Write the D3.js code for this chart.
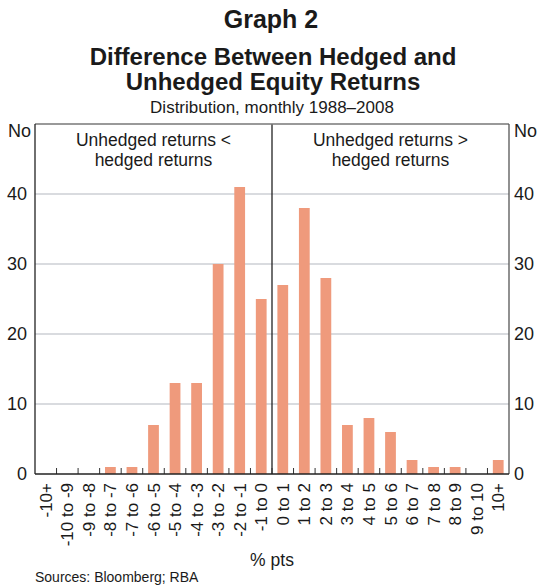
<!DOCTYPE html>
<html>
<head>
<meta charset="utf-8">
<script src="https://cdn.jsdelivr.net/npm/d3@7"></script>
<style>
  body { margin: 0; background: #fff; }
  text { font-family: Arial, "Liberation Sans", sans-serif; fill: #1a1a1a; }
</style>
</head>
<body>
<div id="chart"></div>
<script>
// bins and counts
var bins = ["-10+", "-10 to -9", "-9 to -8", "-8 to -7", "-7 to -6", "-6 to -5", "-5 to -4",
            "-4 to -3", "-3 to -2", "-2 to -1", "-1 to 0", "0 to 1", "1 to 2", "2 to 3",
            "3 to 4", "4 to 5", "5 to 6", "6 to 7", "7 to 8", "8 to 9", "9 to 10", "10+"];
var counts = [0, 0, 0, 1, 1, 7, 13, 13, 30, 41, 25, 27, 38, 28, 7, 8, 6, 2, 1, 1, 0, 2];
var yTicks = [0, 10, 20, 30, 40];

var W = 537, H = 587;
var margin = {top: 124, right: 28, bottom: 113, left: 35},
    width = W - margin.left - margin.right,
    height = H - margin.top - margin.bottom;

var svg = d3.select("#chart").append("svg")
    .attr("width", W)
    .attr("height", H);

// titles
svg.append("text").attr("x", 271).attr("y", 28).attr("text-anchor", "middle")
  .style("font-size", "25px").style("font-weight", "bold").text("Graph 2");
svg.append("text").attr("x", 273).attr("y", 65).attr("text-anchor", "middle")
  .style("font-size", "24px").style("font-weight", "bold").text("Difference Between Hedged and");
svg.append("text").attr("x", 273).attr("y", 90).attr("text-anchor", "middle")
  .style("font-size", "24px").style("font-weight", "bold").text("Unhedged Equity Returns");
svg.append("text").attr("x", 272).attr("y", 113).attr("text-anchor", "middle")
  .style("font-size", "17px").text("Distribution, monthly 1988\u20132008");

var g = svg.append("g")
  .attr("transform", "translate(" + margin.left + "," + margin.top + ")");

var x = d3.scaleBand().domain(bins).range([0, width]).paddingInner(0.5).paddingOuter(0.25);
var y = d3.scaleLinear().domain([0, 50]).range([height, 0]);

// gridlines
g.selectAll(".grid")
  .data(yTicks.filter(d => d > 0))
  .enter().append("line")
    .attr("x1", 0).attr("x2", width)
    .attr("y1", d => y(d)).attr("y2", d => y(d))
    .attr("stroke", "#b4b8bf").attr("stroke-width", 1.2);

// bars
g.selectAll(".bar")
  .data(bins)
  .enter().append("rect")
    .attr("x", d => x(d))
    .attr("width", x.bandwidth())
    .attr("y", (d, i) => y(counts[i]))
    .attr("height", (d, i) => height - y(counts[i]))
    .attr("fill", "#ef9a7c");

// divider at zero
var step = width / bins.length;
g.append("line")
  .attr("x1", step * 11).attr("x2", step * 11)
  .attr("y1", 0).attr("y2", height)
  .attr("stroke", "#222").attr("stroke-width", 1.3);

// frame
g.append("line").attr("x1", 0).attr("x2", width).attr("y1", 0).attr("y2", 0)
  .attr("stroke", "#777").attr("stroke-width", 1.5);
g.append("line").attr("x1", 0).attr("x2", 0).attr("y1", 0).attr("y2", height)
  .attr("stroke", "#222").attr("stroke-width", 1.3);
g.append("line").attr("x1", width).attr("x2", width).attr("y1", 0).attr("y2", height)
  .attr("stroke", "#555").attr("stroke-width", 1.3);

// ticks between bins, pointing up
g.selectAll(".tick")
  .data(d3.range(1, bins.length))
  .enter().append("line")
    .attr("x1", d => d * step).attr("x2", d => d * step)
    .attr("y1", height).attr("y2", height - 6)
    .attr("stroke", "#333").attr("stroke-width", 1);

g.append("line").attr("x1", 0).attr("x2", width).attr("y1", height).attr("y2", height)
  .attr("stroke", "#222").attr("stroke-width", 1.5);

// y axis labels, both sides
g.selectAll(".yl")
  .data(yTicks)
  .enter().append("text")
    .attr("x", -8).attr("y", d => y(d)).attr("dy", "0.35em")
    .attr("text-anchor", "end").style("font-size", "18px").text(d => d);
g.selectAll(".yr")
  .data(yTicks)
  .enter().append("text")
    .attr("x", width + 5).attr("y", d => y(d)).attr("dy", "0.35em")
    .attr("text-anchor", "start").style("font-size", "18px").text(d => d);
g.append("text").attr("x", -27).attr("y", 7).attr("dy", "0.35em")
  .style("font-size", "18px").text("No");
g.append("text").attr("x", width + 5).attr("y", 7).attr("dy", "0.35em")
  .style("font-size", "18px").text("No");

// x labels rotated
g.selectAll(".xl")
  .data(bins)
  .enter().append("text")
    .attr("transform", d => "translate(" + (x(d) + x.bandwidth() / 2 + 6) + "," + (height + 9) + ") rotate(-90)")
    .attr("text-anchor", "end")
    .style("font-size", "17px")
    .text(d => d);

// annotations
var notes = [["Unhedged returns <", "hedged returns", step * 5.5],
             ["Unhedged returns >", "hedged returns", step * 16.5]];
notes.forEach(function(n) {
  g.append("text").attr("x", n[2]).attr("y", 22).attr("text-anchor", "middle")
    .style("font-size", "17.5px").text(n[0]);
  g.append("text").attr("x", n[2]).attr("y", 42).attr("text-anchor", "middle")
    .style("font-size", "17.5px").text(n[1]);
});

svg.append("text").attr("x", 272).attr("y", 566).attr("text-anchor", "middle")
  .style("font-size", "17.5px").text("% pts");
svg.append("text").attr("x", 35).attr("y", 582)
  .style("font-size", "14px").text("Sources: Bloomberg; RBA");
</script>
</body>
</html>
